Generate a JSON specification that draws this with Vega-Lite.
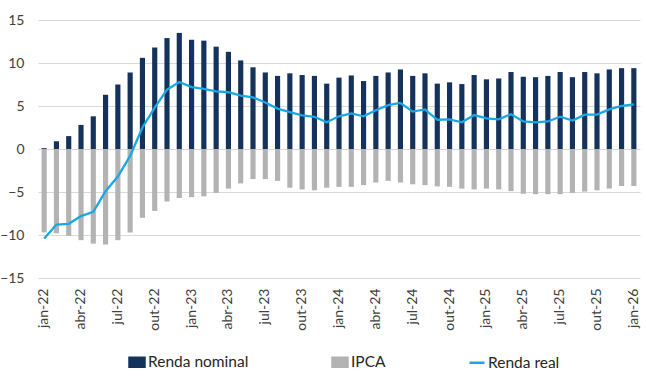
{
  "$schema": "https://vega.github.io/schema/vega-lite/v6.json",
  "width": 602,
  "height": 258,
  "autosize": {"type": "none"},
  "padding": {"left": 38, "top": 20, "right": 6, "bottom": 101},
  "background": "white",
  "config": {
    "view": {"stroke": null},
    "font": "Lato",
    "axis": {"labelFont": "Lato", "labelColor": "#404040"}
  },
  "data": {
    "values": [
      {"m": "jan-22", "Renda nominal": 0.1, "IPCA": -9.7, "Renda real": -10.4},
      {"m": "fev-22", "Renda nominal": 0.9, "IPCA": -9.8, "Renda real": -8.8},
      {"m": "mar-22", "Renda nominal": 1.5, "IPCA": -10.1, "Renda real": -8.7},
      {"m": "abr-22", "Renda nominal": 2.8, "IPCA": -10.6, "Renda real": -7.8},
      {"m": "mai-22", "Renda nominal": 3.8, "IPCA": -11.0, "Renda real": -7.3},
      {"m": "jun-22", "Renda nominal": 6.3, "IPCA": -11.1, "Renda real": -4.9},
      {"m": "jul-22", "Renda nominal": 7.5, "IPCA": -10.6, "Renda real": -3.2},
      {"m": "ago-22", "Renda nominal": 8.9, "IPCA": -9.7, "Renda real": -0.8},
      {"m": "set-22", "Renda nominal": 10.6, "IPCA": -8.0, "Renda real": 2.5},
      {"m": "out-22", "Renda nominal": 11.8, "IPCA": -7.2, "Renda real": 4.8},
      {"m": "nov-22", "Renda nominal": 12.9, "IPCA": -6.1, "Renda real": 6.9},
      {"m": "dez-22", "Renda nominal": 13.5, "IPCA": -5.7, "Renda real": 7.8},
      {"m": "jan-23", "Renda nominal": 12.7, "IPCA": -5.6, "Renda real": 7.2},
      {"m": "fev-23", "Renda nominal": 12.6, "IPCA": -5.5, "Renda real": 7.0},
      {"m": "mar-23", "Renda nominal": 11.9, "IPCA": -5.1, "Renda real": 6.7},
      {"m": "abr-23", "Renda nominal": 11.3, "IPCA": -4.6, "Renda real": 6.6},
      {"m": "mai-23", "Renda nominal": 10.3, "IPCA": -4.0, "Renda real": 6.2},
      {"m": "jun-23", "Renda nominal": 9.5, "IPCA": -3.5, "Renda real": 6.0},
      {"m": "jul-23", "Renda nominal": 8.9, "IPCA": -3.5, "Renda real": 5.4},
      {"m": "ago-23", "Renda nominal": 8.5, "IPCA": -3.7, "Renda real": 4.7},
      {"m": "set-23", "Renda nominal": 8.8, "IPCA": -4.5, "Renda real": 4.3},
      {"m": "out-23", "Renda nominal": 8.6, "IPCA": -4.7, "Renda real": 3.9},
      {"m": "nov-23", "Renda nominal": 8.5, "IPCA": -4.8, "Renda real": 3.75},
      {"m": "dez-23", "Renda nominal": 7.6, "IPCA": -4.5, "Renda real": 3.1},
      {"m": "jan-24", "Renda nominal": 8.3, "IPCA": -4.4, "Renda real": 3.8},
      {"m": "fev-24", "Renda nominal": 8.55, "IPCA": -4.4, "Renda real": 4.15},
      {"m": "mar-24", "Renda nominal": 7.9, "IPCA": -4.2, "Renda real": 3.8},
      {"m": "abr-24", "Renda nominal": 8.5, "IPCA": -3.9, "Renda real": 4.5},
      {"m": "mai-24", "Renda nominal": 8.9, "IPCA": -3.7, "Renda real": 5.1},
      {"m": "jun-24", "Renda nominal": 9.25, "IPCA": -3.9, "Renda real": 5.35},
      {"m": "jul-24", "Renda nominal": 8.5, "IPCA": -4.1, "Renda real": 4.35},
      {"m": "ago-24", "Renda nominal": 8.8, "IPCA": -4.2, "Renda real": 4.6},
      {"m": "set-24", "Renda nominal": 7.6, "IPCA": -4.35, "Renda real": 3.4},
      {"m": "out-24", "Renda nominal": 7.75, "IPCA": -4.4, "Renda real": 3.45},
      {"m": "nov-24", "Renda nominal": 7.55, "IPCA": -4.6, "Renda real": 3.1},
      {"m": "dez-24", "Renda nominal": 8.6, "IPCA": -4.7, "Renda real": 3.95},
      {"m": "jan-25", "Renda nominal": 8.1, "IPCA": -4.6, "Renda real": 3.55},
      {"m": "fev-25", "Renda nominal": 8.2, "IPCA": -4.7, "Renda real": 3.45},
      {"m": "mar-25", "Renda nominal": 8.95, "IPCA": -4.9, "Renda real": 4.05},
      {"m": "abr-25", "Renda nominal": 8.4, "IPCA": -5.2, "Renda real": 3.2},
      {"m": "mai-25", "Renda nominal": 8.35, "IPCA": -5.25, "Renda real": 3.1},
      {"m": "jun-25", "Renda nominal": 8.5, "IPCA": -5.25, "Renda real": 3.2},
      {"m": "jul-25", "Renda nominal": 8.95, "IPCA": -5.25, "Renda real": 3.75},
      {"m": "ago-25", "Renda nominal": 8.35, "IPCA": -5.1, "Renda real": 3.3},
      {"m": "set-25", "Renda nominal": 8.95, "IPCA": -4.95, "Renda real": 4.0},
      {"m": "out-25", "Renda nominal": 8.8, "IPCA": -4.8, "Renda real": 4.0},
      {"m": "nov-25", "Renda nominal": 9.25, "IPCA": -4.6, "Renda real": 4.6},
      {"m": "dez-25", "Renda nominal": 9.4, "IPCA": -4.3, "Renda real": 5.0},
      {"m": "jan-26", "Renda nominal": 9.4, "IPCA": -4.3, "Renda real": 5.2}
    ]
  },
  "encoding": {
    "x": {
      "field": "m",
      "type": "ordinal",
      "sort": null,
      "scale": {"paddingInner": 0.58, "paddingOuter": 0.29},
      "axis": {
        "title": null,
        "values": ["jan-22","abr-22","jul-22","out-22","jan-23","abr-23","jul-23","out-23","jan-24","abr-24","jul-24","out-24","jan-25","abr-25","jul-25","out-25","jan-26"],
        "labelAngle": 270,
        "labelFontSize": 14,
        "labelPadding": 10,
        "domain": false,
        "ticks": false,
        "grid": false
      }
    }
  },
  "layer": [
    {
      "transform": [{"fold": ["Renda nominal", "IPCA"], "as": ["serie", "valor"]}],
      "mark": {"type": "bar"},
      "encoding": {
        "y": {
          "field": "valor",
          "type": "quantitative",
          "stack": null,
          "scale": {"domain": [-15, 15], "nice": false},
          "axis": {
            "title": null,
            "values": [-15, -10, -5, 0, 5, 10, 15],
            "labelFontSize": 14,
            "labelPadding": 14,
            "ticks": false,
            "domain": false,
            "gridColor": "#d9d9d9",
            "gridWidth": 1
          }
        },
        "color": {
          "field": "serie",
          "type": "nominal",
          "scale": {"domain": ["Renda nominal", "IPCA", "Renda real"], "range": ["#15325c", "#b3b3b3", "#18a8e4"]},
          "legend": {
            "title": null,
            "orient": "none",
            "legendX": 90,
            "legendY": 333,
            "direction": "horizontal",
            "columnPadding": 78,
            "labelFontSize": 15.5,
            "labelColor": "#262626",
            "labelOffset": 2,
            "symbolSize": 225,
            "encode": {
              "symbols": {
                "update": {
                  "shape": {"signal": "datum.value === 'Renda real' ? 'stroke' : 'M-1,-0.6H1V0.6H-1Z'"},
                  "fill": {"signal": "datum.value === 'Renda real' ? 'transparent' : (datum.value === 'IPCA' ? '#b3b3b3' : '#15325c')"},
                  "stroke": {"signal": "datum.value === 'Renda real' ? '#18a8e4' : 'transparent'"},
                  "strokeWidth": {"value": 2.5},
                  "opacity": {"value": 1}
                }
              }
            }
          }
        }
      }
    },
    {
      "mark": {"type": "line", "strokeWidth": 2.3},
      "encoding": {
        "y": {"field": "Renda real", "type": "quantitative"},
        "color": {"datum": "Renda real"}
      }
    }
  ]
}
